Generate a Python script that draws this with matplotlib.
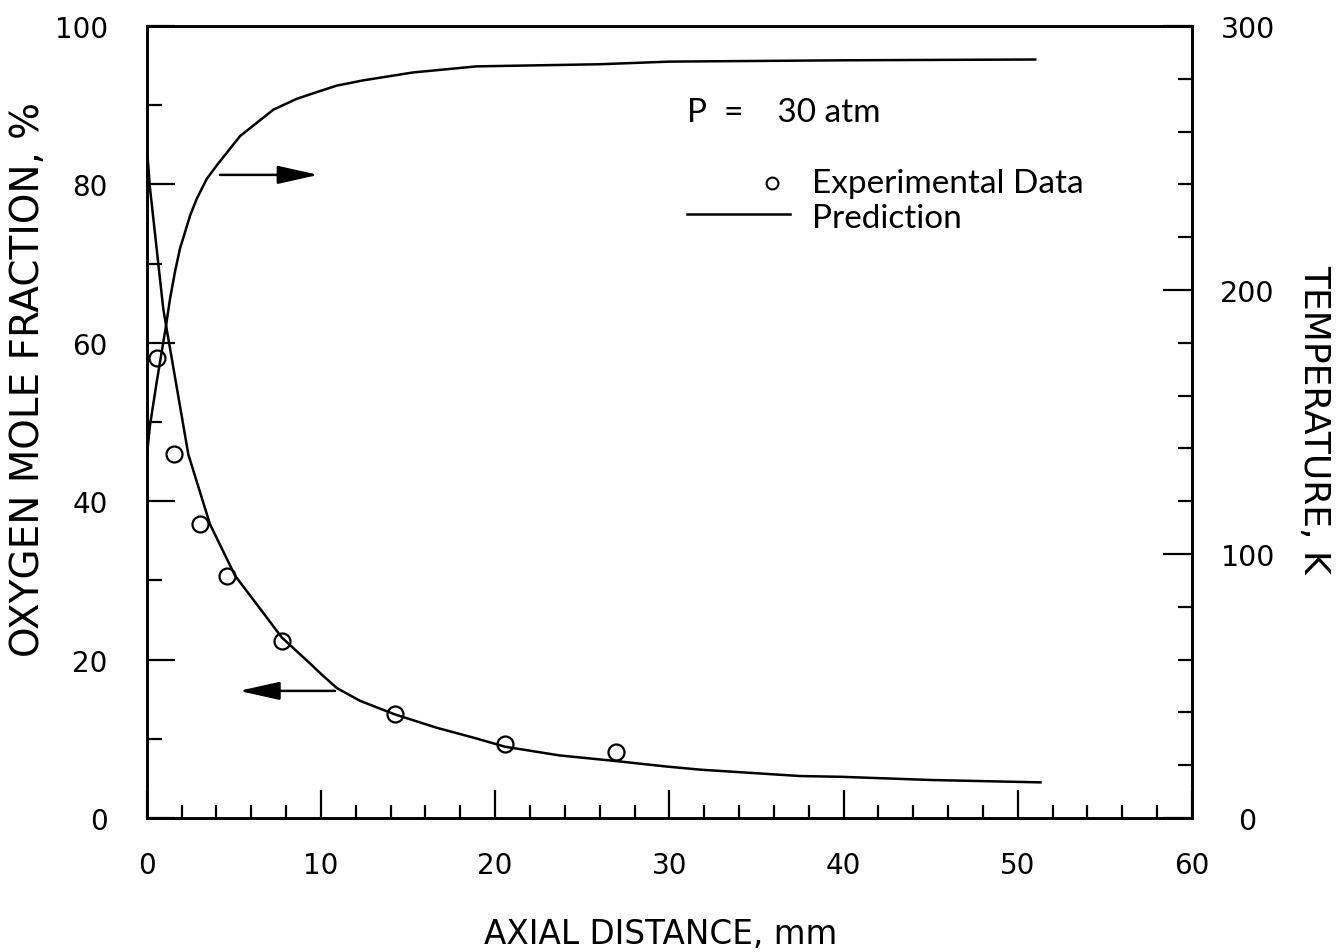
import matplotlib
matplotlib.use('Agg')
import matplotlib.pyplot as plt
from matplotlib.ticker import MultipleLocator
from matplotlib.lines import Line2D

# measured points, oxygen mole fraction (%)
exp_distance = [0.57, 1.58, 3.06, 4.59, 7.75, 14.25, 20.57, 26.94]
exp_o2 = [58.1, 45.9, 37.1, 30.6, 22.4, 13.1, 9.3, 8.3]

# predicted oxygen mole fraction (%)
pred_o2_distance = [0.0, 0.19, 0.57, 0.95, 1.11, 2.39, 3.63, 5.07, 6.69, 7.75,
                    9.38, 10.05, 10.92, 12.24, 14.22, 16.64, 18.83, 20.57, 23.7,
                    26.9, 29.83, 31.8, 37.5, 39.9, 45.0, 51.3]
pred_o2 = [85.0, 79.5, 71.9, 64.3, 62.2, 45.9, 37.1, 30.6, 25.9, 22.8,
           19.5, 18.1, 16.4, 14.8, 13.1, 11.4, 10.1, 9.0, 7.9,
           7.2, 6.5, 6.1, 5.3, 5.2, 4.8, 4.5]

# predicted temperature (K)
pred_t_distance = [0.0, 0.19, 0.57, 1.11, 1.34, 1.62, 1.91, 2.20, 2.49, 2.87,
                   3.44, 4.02, 4.78, 5.36, 7.27, 8.61, 9.56, 10.9, 12.43, 15.3,
                   18.94, 26.0, 30.0, 40.0, 51.0]
pred_temp = [136.6, 148.8, 165.0, 186.5, 196.7, 206.8, 215.7, 221.9, 228.2, 234.5,
             242.0, 247.2, 253.5, 258.3, 268.3, 272.4, 274.5, 277.4, 279.4, 282.4,
             284.7, 285.5, 286.5, 287.0, 287.3]

x_ticks = [0, 10, 20, 30, 40, 50, 60]
o2_ticks = [0, 20, 40, 60, 80, 100]
temp_ticks = [0, 100, 200, 300]

plt.rcParams['font.family'] = 'DejaVu Sans'

fig = plt.figure(figsize=(13.41, 9.53), dpi=100)
ax = fig.add_axes([0.1094, 0.1406, 0.7795, 0.8311])
ax2 = ax.twinx()

# oxygen (left axis)
ax.plot(pred_o2_distance, pred_o2, color='black', lw=1.8)
ax.plot(exp_distance, exp_o2, 'o', mfc='none', mec='black', ms=11.5, mew=1.6)

# temperature (right axis)
ax2.plot(pred_t_distance, pred_temp, color='black', lw=1.8)

ax.set_xlim(0, 60)
ax.set_ylim(0, 100)
ax2.set_ylim(0, 300)

ax.set_xticks(x_ticks)
ax.xaxis.set_minor_locator(MultipleLocator(2))
ax.set_yticks(o2_ticks)
ax.yaxis.set_minor_locator(MultipleLocator(10))
ax2.set_yticks(temp_ticks)
ax2.yaxis.set_minor_locator(MultipleLocator(20))

ax.tick_params(axis='x', which='major', direction='in', length=20, width=1.6,
               labelsize=20, pad=24, top=False)
ax.tick_params(axis='x', which='minor', direction='in', length=9.5, width=1.6, top=False)
ax.tick_params(axis='y', which='major', direction='in', length=20, width=1.6,
               labelsize=20, pad=28, right=False)
ax.tick_params(axis='y', which='minor', direction='in', length=11, width=1.6, right=False)
ax2.tick_params(axis='y', which='major', direction='in', length=21, width=1.6,
                labelsize=20.5, pad=40)
ax2.tick_params(axis='y', which='minor', direction='in', length=10, width=1.6)
plt.setp(ax2.get_yticklabels(), ha='center')

for a in (ax, ax2):
    for s in a.spines.values():
        s.set_linewidth(1.9)

ax.set_xlabel('AXIAL DISTANCE, mm', fontsize=23.5, va='center', ha='center')
ax.xaxis.set_label_coords(0.492, -0.146)
ax.set_ylabel('OXYGEN MOLE FRACTION, %', fontsize=28, va='center', ha='center')
ax.yaxis.set_label_coords(-0.1136, 0.555)
ax2.set_ylabel('TEMPERATURE, K', fontsize=26, rotation=270, va='center', ha='center')
ax2.yaxis.set_label_coords(1.1167, 0.504)

# direction arrows pointing to each curve's axis
arrow = dict(arrowstyle='-|>,head_length=1.25,head_width=0.28', mutation_scale=20,
             lw=1.8, color='black', shrinkA=0, shrinkB=0)
ax.annotate('', xy=(9.85, 81.2), xytext=(4.21, 81.2), arrowprops=arrow)
ax.annotate('', xy=(5.30, 16.05), xytext=(10.81, 16.05), arrowprops=arrow)

# key
ax.text(31.0, 89.2, 'P  =    30 atm', fontsize=24, family='Lato', va='center', ha='left')
ax.add_line(Line2D([35.9], [80.2], marker='o', mfc='none', mec='black', ms=8.5, mew=1.5))
ax.text(38.2, 80.2, 'Experimental Data', fontsize=24, family='Lato', va='center', ha='left')
ax.add_line(Line2D([31.0, 36.9], [76.3, 76.3], color='black', lw=1.8))
ax.text(38.2, 75.8, 'Prediction', fontsize=24, family='Lato', va='center', ha='left')

fig.savefig('out.png', dpi=100)
